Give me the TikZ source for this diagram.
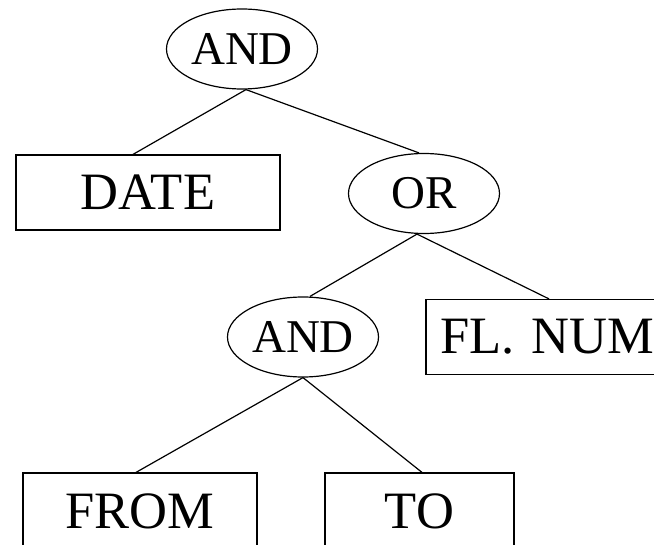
\documentclass[tikz,border=0pt]{standalone}
\usepackage{fontspec}
\setmainfont{Liberation Serif}
\usetikzlibrary{shapes.geometric,calc}
\tikzset{
  opnode/.style={draw, ellipse, line width=1.2pt, inner sep=0pt, minimum width=151pt, minimum height=80pt, font=\fontsize{47}{50}\selectfont},
  leafbox/.style={draw, rectangle, line width=1.2pt, inner sep=0pt, minimum height=75pt, font=\fontsize{52.5}{56}\selectfont},
  link/.style={line width=1.2pt}
}
\begin{document}
\begin{tikzpicture}[x=1pt,y=-1pt]
\useasboundingbox (0,0) rectangle (654,545);
\clip (0,0) rectangle (654,545);
\node[opnode] (and1) at (242,49) {AND};
\node[leafbox, minimum width=264pt] (date) at (148,192.5) {DATE};
\node[opnode] (or) at (424,193.5) {OR};
\node[opnode] (and2) at (303,337) {AND};
\node[leafbox, minimum width=274pt, text width=274pt, align=left] (flnum) at (563,337) {\hspace{14pt}FL. NUM};
\node[leafbox, minimum width=234pt, minimum height=77pt] (from) at (140,511.5) {FROM};
\node[leafbox, minimum width=189pt, minimum height=77pt] (to) at (419.5,511.5) {TO};
\draw[link] ($(and1.south)+(4,0)$) -- ($(date.north)+(-15,0)$);
\draw[link] ($(and1.south)+(4,0)$) -- ($(or.north)+(-5,0)$);
\draw[link] ($(or.south)+(-7,0)$) -- ($(and2.north)+(7,0)$);
\draw[link] ($(or.south)+(-7,0)$) -- ($(flnum.north)+(-14,0)$);
\draw[link] (and2.south) -- ($(from.north)+(-4,0)$);
\draw[link] (and2.south) -- ($(to.north)+(2.5,0)$);
\end{tikzpicture}
\end{document}
